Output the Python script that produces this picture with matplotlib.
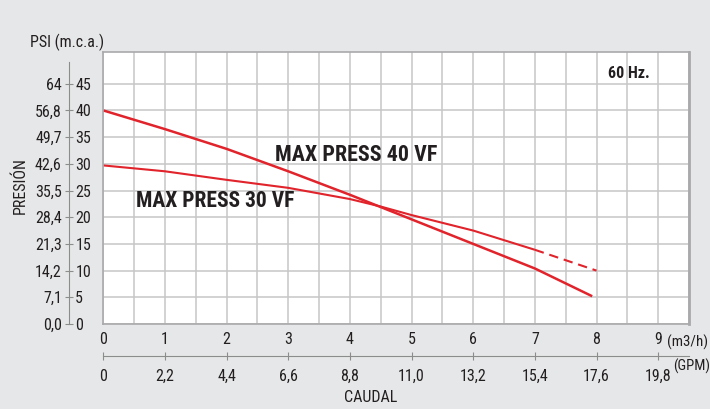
import matplotlib.pyplot as plt
import numpy as np

# curve data (flow m3/h, head m.c.a.)
flow_40 = [0, 1, 2, 3, 4, 4.5, 5, 6, 7, 7.93]
head_40 = [40, 36.5, 32.8, 28.6, 24.2, 21.9, 19.6, 15.0, 10.4, 5.2]
flow_30 = [0, 1, 2, 3, 4, 4.5, 5, 6, 7]
head_30 = [29.7, 28.6, 27.0, 25.5, 23.4, 22.0, 20.4, 17.5, 13.9]
flow_30_ext = [7, 8]
head_30_ext = [13.9, 10.0]

# axis labels
mca_ticks = [0, 5, 10, 15, 20, 25, 30, 35, 40, 45]
psi_labels = ['0,0', '7,1', '14,2', '21,3', '28,4', '35,5', '42,6', '49,7', '56,8', '64']
m3h_ticks = [0, 1, 2, 3, 4, 5, 6, 7, 8, 9]
gpm_labels = ['0', '2,2', '4,4', '6,6', '8,8', '11,0', '13,2', '15,4', '17,6', '19,8']

bg = '#e6e7e8'
red = '#e1232b'
txt = '#231f20'
grid_c = '#c6c6c8'
axis_c = '#8c8c8c'

plt.rcParams['font.family'] = ['Roboto Condensed', 'DejaVu Sans']

W, H = 710, 409
fig = plt.figure(figsize=(W / 100, H / 100), dpi=100, facecolor=bg)


def fx(px):
    return px / W


def fy(py):
    return 1 - py / H


# main plot area
left, right, top, bottom = 103.3, 689, 51.7, 324
ax = fig.add_axes([fx(left), fy(bottom), fx(right) - fx(left), fy(top) - fy(bottom)])
ax.set_facecolor('white')
ax.set_xlim(0, 9.5)
ax.set_ylim(0, 51)
ax.set_xticks(np.arange(0, 9.51, 0.5))
ax.set_yticks(mca_ticks)
ax.tick_params(length=0, labelleft=False, labelbottom=False)
ax.grid(color=grid_c, lw=1.1)
ax.set_axisbelow(True)
for s in ax.spines.values():
    s.set_color('#a9a9ab')
    s.set_linewidth(1.2)
ax.spines['right'].set_linewidth(2)

ax.plot(flow_40, head_40, color=red, lw=1.8, solid_capstyle='butt')
ax.plot(flow_30, head_30, color=red, lw=1.5, solid_capstyle='butt')
ax.plot(flow_30_ext, head_30_ext, color=red, lw=1.5, dashes=(4.5, 2.8))

bold = dict(color=txt, fontweight='bold', va='center', ha='left')
ax.text(2.79, 31.6, 'MAX PRESS 40 VF', fontsize=15.8, **bold)
ax.text(0.53, 23.0, 'MAX PRESS 30 VF', fontsize=15.5, **bold)
ax.text(8.19, 47.0, '60 Hz.', fontsize=11.5, **bold)

# left scale (PSI / m.c.a.)
ax2 = fig.add_axes([fx(69), fy(bottom), 1e-4, fy(top) - fy(bottom)])
ax2.set_ylim(0, 51)
ax2.patch.set_visible(False)
for k in ['top', 'right', 'bottom']:
    ax2.spines[k].set_visible(False)
ax2.spines['left'].set_color(axis_c)
ax2.spines['left'].set_bounds(0, 49)
ax2.set_xticks([])
ax2.set_yticks(mca_ticks, labels=psi_labels)
ax2.tick_params(axis='y', direction='inout', length=6, color=axis_c, pad=2.2,
                labelsize=11.5, labelcolor=txt)
ax3 = ax2.twinx()
ax3.set_ylim(0, 51)
for s in ax3.spines.values():
    s.set_visible(False)
ax3.set_yticks(mca_ticks, labels=[str(v) for v in mca_ticks])
ax3.tick_params(axis='y', length=0, pad=4.5, labelsize=11.5, labelcolor=txt)

# bottom scale (m3/h / GPM)
ax4 = fig.add_axes([fx(left), fy(356), fx(right) - fx(left), 1e-4])
ax4.set_xlim(0, 9.5)
ax4.patch.set_visible(False)
for k in ['top', 'right', 'left']:
    ax4.spines[k].set_visible(False)
ax4.spines['bottom'].set_color(axis_c)
ax4.spines['bottom'].set_bounds(0, 9.5)
ax4.set_yticks([])
ax4.set_xticks(m3h_ticks, labels=gpm_labels)
ax4.tick_params(axis='x', direction='inout', length=6, color=axis_c, pad=6.2,
                labelsize=11.5, labelcolor=txt)
ax5 = ax4.twiny()
ax5.set_xlim(0, 9.5)
for s in ax5.spines.values():
    s.set_visible(False)
ax5.set_xticks(m3h_ticks, labels=[str(v) for v in m3h_ticks])
ax5.tick_params(axis='x', length=0, pad=6.5, labelsize=11.5, labelcolor=txt)

# axis titles and units
fig.text(fx(30), fy(42), 'PSI (m.c.a.)', fontsize=11.5, color=txt, va='center', ha='left')
fig.text(fx(20), fy(186), 'PRESIÓN', fontsize=11.5, color=txt, rotation=90,
         va='center', ha='center')
fig.text(fx(371), fy(398), 'CAUDAL', fontsize=11.5, color=txt, va='center', ha='center')
fig.text(fx(667), fy(342), '(m3/h)', fontsize=10.8, color=txt, va='center', ha='left')
fig.text(fx(673), fy(366), '(GPM)', fontsize=10.5, color=txt, va='center', ha='left')

fig.savefig('out.png', dpi=100, facecolor=bg)
